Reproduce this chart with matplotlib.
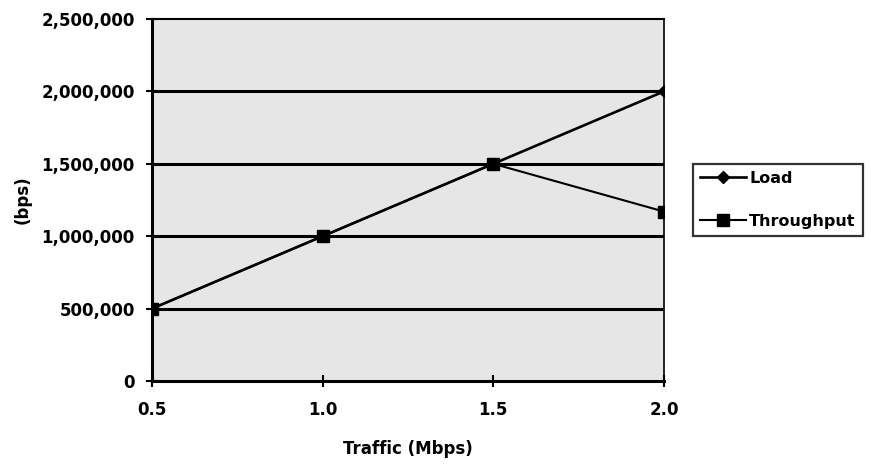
import matplotlib
matplotlib.use("Agg")
import matplotlib.pyplot as plt
from matplotlib.ticker import FuncFormatter

traffic = [0.5, 1.0, 1.5, 2.0]
load = [500000, 1000000, 1500000, 2000000]
throughput = [500000, 1000000, 1500000, 1170000]
xticks = [0.5, 1.0, 1.5, 2.0]
yticks = [0, 500000, 1000000, 1500000, 2000000, 2500000]

plt.rcParams['font.family'] = ['DejaVu Sans']
fig = plt.figure(figsize=(8.71, 4.73), dpi=100)
ax = fig.add_axes([152/871, 92/473, 512/871, 362/473])
ax.set_facecolor('#e6e6e6')

for y in yticks[1:-1]:
    ax.axhline(y, color='black', lw=2.2, zorder=1)

ax.plot(traffic, load, color='black', lw=1.9, marker='D', ms=6, label='Load', zorder=3)
ax.plot(traffic, throughput, color='black', lw=1.5, marker='s', ms=8, label='Throughput', zorder=3)

ax.set_xlim(0.5, 2.0)
ax.set_ylim(0, 2500000)
ax.set_xticks(xticks)
ax.set_xticklabels([f"{v:.1f}" for v in xticks])
ax.set_yticks(yticks)
ax.yaxis.set_major_formatter(FuncFormatter(lambda v, p: f"{int(v):,}"))
ax.tick_params(axis='both', direction='inout', length=9, width=1.5, labelsize=12)
for lab in ax.get_xticklabels() + ax.get_yticklabels():
    lab.set_fontweight('bold')
ax.tick_params(axis='x', pad=10)
ax.tick_params(axis='y', pad=8)

for s in ['left', 'bottom']:
    ax.spines[s].set_linewidth(2.2)
ax.spines['right'].set_linewidth(1.2)
ax.spines['top'].set_linewidth(1.5)

ax.set_ylabel('(bps)', fontsize=12, fontweight='bold', labelpad=7)
ax.set_xlabel('Traffic (Mbps)', fontsize=12, fontweight='bold', labelpad=15)

leg = ax.legend(loc='center left', bbox_to_anchor=(1.056, 0.5), frameon=True,
                fancybox=False, edgecolor='black', fontsize=11.5, handlelength=2.9,
                borderpad=0.45, labelspacing=1.75, handletextpad=0.2, borderaxespad=0)
leg.get_frame().set_linewidth(1.6)
for t in leg.get_texts():
    t.set_fontweight('bold')

fig.savefig('out.png', dpi=100)
